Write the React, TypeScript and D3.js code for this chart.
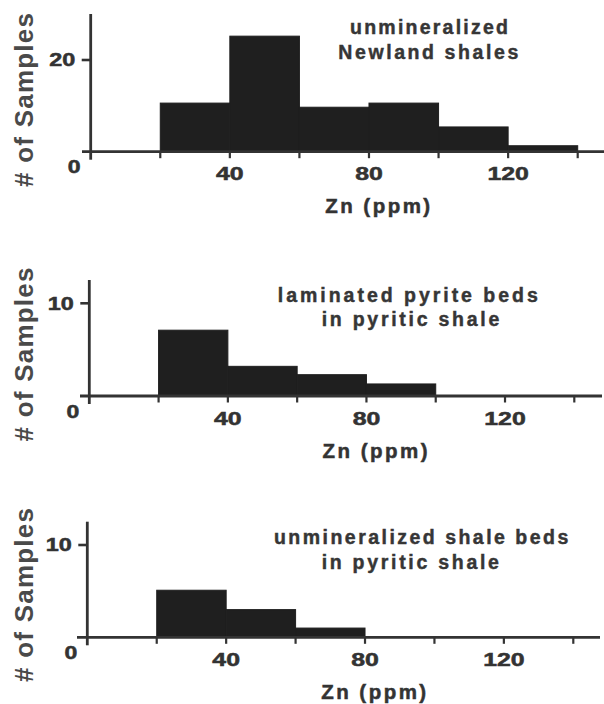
import * as d3 from 'd3';
import React from 'react';

// Zn histograms, 20 ppm bins
const binEdges = [20, 40, 60, 80, 100, 120, 140];
const xTickValues = [0, 20, 40, 60, 80, 100, 120, 140];
const xTickLabels = [40, 80, 120];

const newlandCounts = [10.6, 25.2, 9.7, 10.6, 5.4, 1.3];
const laminatedCounts = [7.1, 3.2, 2.3, 1.3];
const shaleBedCounts = [5.1, 3.0, 1.0];

const newlandTitle = ['unmineralized', 'Newland shales'];
const laminatedTitle = ['laminated pyrite beds', 'in pyritic shale'];
const shaleBedTitle = ['unmineralized shale beds', 'in pyritic shale'];

const yTickNewland = 20;
const yTickPyritic = 10;

const xLabel = 'Zn (ppm)';
const yLabel = '# of Samples';

const FONT = '"Liberation Sans", Arial, sans-serif';
const INK = '#333';

const panels = [
  {
    counts: newlandCounts, title: newlandTitle, yTick: yTickNewland,
    xRange: [90.7, 577.7], yZero: 151.7, yTickPx: 60, top: 14, axisLeft: 82, axisRight: 604,
    labelCenter: 100,
    lines: [{ cx: 429, w: 158, y: 33.8 }, { cx: 428.3, w: 180, y: 59 }],
  },
  {
    counts: laminatedCounts, title: laminatedTitle, yTick: yTickPyritic,
    xRange: [89.3, 574.3], yZero: 396, yTickPx: 303.3, top: 280, axisLeft: 80, axisRight: 602,
    labelCenter: 354.5,
    lines: [{ cx: 407.8, w: 260, y: 301.7 }, { cx: 410.5, w: 177.6, y: 325.7 }],
  },
  {
    counts: shaleBedCounts, title: shaleBedTitle, yTick: yTickPyritic,
    xRange: [87.3, 573.3], yZero: 637.3, yTickPx: 545, top: 521.7, axisLeft: 77, axisRight: 600,
    labelCenter: 595,
    lines: [{ cx: 421.1, w: 294.3, y: 544.3 }, { cx: 410.3, w: 177.3, y: 569.3 }],
  },
];

function Panel({ p }) {
  const x = d3.scaleLinear().domain([0, 140]).range(p.xRange);
  const y = d3.scaleLinear().domain([0, p.yTick]).range([p.yZero, p.yTickPx]);
  const x0 = x(0);
  const y0 = y(0);

  return (
    <g>
      {p.counts.map((c, i) => (
        <rect key={i}
          x={x(binEdges[i])} y={y(c)}
          width={x(binEdges[i + 1]) - x(binEdges[i])}
          height={y0 - y(c)}
          fill="#1f1f1f" stroke="#1f1f1f" strokeWidth={1} />
      ))}

      {/* axes */}
      <line x1={x0} x2={x0} y1={p.top} y2={y0 + 8} stroke={INK} strokeWidth={2.8} />
      <line x1={p.axisLeft} x2={p.axisRight} y1={y0} y2={y0} stroke={INK} strokeWidth={2.8} />
      {xTickValues.slice(1).map((v) => (
        <line key={v} x1={x(v)} x2={x(v)} y1={y0} y2={y0 + 6.5} stroke={INK} strokeWidth={2.2} />
      ))}
      <line x1={x0 - 9} x2={x0} y1={y(p.yTick)} y2={y(p.yTick)} stroke={INK} strokeWidth={2.6} />

      {/* tick labels */}
      <g fill={INK} stroke={INK} strokeWidth={0.5} fontFamily={FONT} fontWeight="bold" fontSize={17.5} textAnchor="middle">
        <text x={x0 - 16.5} y={y0 + 21.5} textLength={12.8} lengthAdjust="spacingAndGlyphs">0</text>
        <text x={x0 - 28.5} y={y(p.yTick) + 6.3} textLength={String(p.yTick).length * 13}
          lengthAdjust="spacingAndGlyphs">{p.yTick}</text>
        {xTickLabels.map((v) => (
          <text key={v} x={x(v)} y={y0 + 28.6} textLength={String(v).length * 13.8}
            lengthAdjust="spacingAndGlyphs">{v}</text>
        ))}
        <text x={x(82.5)} y={y0 + 61.5} fontSize={20.5} textLength={105} lengthAdjust="spacing">{xLabel}</text>
      </g>

      {/* panel title */}
      <g fill="#363636" stroke="#363636" strokeWidth={0.45} fontFamily={FONT} fontWeight="bold" fontSize={19.5} textAnchor="middle">
        {p.title.map((t, i) => (
          <text key={i} x={p.lines[i].cx} y={p.lines[i].y} textLength={p.lines[i].w} lengthAdjust="spacing">{t}</text>
        ))}
      </g>

      <text transform={`translate(32.5,${p.labelCenter}) rotate(-90)`} textAnchor="middle"
        fill="#4a4a4a" fontFamily={FONT} fontWeight="bold" fontSize={26}
        textLength={174} lengthAdjust="spacing">{yLabel}</text>
    </g>
  );
}

export default function App() {
  return (
    <svg width={604} height={704} viewBox="0 0 604 704"
      style={{ position: 'absolute', left: 0, top: 0, background: '#fff' }}>
      <rect width={604} height={704} fill="#fff" />
      {panels.map((p, i) => <Panel key={i} p={p} />)}
    </svg>
  );
}
